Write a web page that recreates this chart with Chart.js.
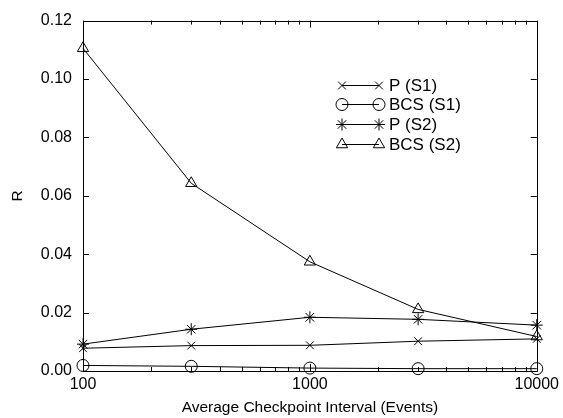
<!DOCTYPE html>
<html>
<head>
<meta charset="utf-8">
<script src="https://cdn.jsdelivr.net/npm/chart.js@4/dist/chart.umd.min.js"></script>
<style>
  html, body { margin: 0; padding: 0; background: #fff; }
  #wrap { width: 563px; height: 418px; }
</style>
</head>
<body>
<div id="wrap"><canvas id="chart"></canvas></div>
<script>
const black = "#000";
const font_family = "'Liberation Sans', Arial, Helvetica, sans-serif";

// data
const intervals = [100, 300, 1000, 3000, 10000];
const p_s1 = [0.0078, 0.0087, 0.0088, 0.0102, 0.0110];
const bcs_s1 = [0.0019, 0.0016, 0.0010, 0.0008, 0.0008];
const p_s2 = [0.0092, 0.0143, 0.0184, 0.0177, 0.0157];
const bcs_s2 = [0.1105, 0.0643, 0.0374, 0.0211, 0.0118];

const series_labels = ['P (S1)', 'BCS (S1)', 'P (S2)', 'BCS (S2)'];
const series_values = [p_s1, bcs_s1, p_s2, bcs_s2];
const point_styles = ['crossRot', 'circle', 'star', 'triangle'];
const point_radius = [5.5, 6, 6, 6.5];

const x_ticks = [100, 200, 300, 400, 500, 600, 700, 800, 900,
                 1000, 2000, 3000, 4000, 5000, 6000, 7000, 8000, 9000, 10000];
const x_labels = [100, 1000, 10000];
const y_ticks = [0, 0.02, 0.04, 0.06, 0.08, 0.10, 0.12];

function is_major(v) {
    return x_labels.includes(v);
}

// frame round the plot with inward tick marks on all four sides
const frame_plugin = {
    id: 'frame',
    afterDatasetsDraw(chart) {
        const ctx = chart.ctx;
        const a = chart.chartArea;
        const xs = chart.scales.x;
        const ys = chart.scales.y;
        ctx.save();
        ctx.strokeStyle = black;
        ctx.lineWidth = 1;
        ctx.beginPath();
        ctx.rect(Math.round(a.left) + 0.5, Math.round(a.top) + 0.5,
                 Math.round(a.right - a.left), Math.round(a.bottom - a.top));
        ctx.stroke();
        ctx.beginPath();
        y_ticks.forEach(v => {
            const y = Math.round(ys.getPixelForValue(v)) + 0.5;
            ctx.moveTo(a.left, y); ctx.lineTo(a.left + 6, y);
            ctx.moveTo(a.right, y); ctx.lineTo(a.right - 6, y);
        });
        x_ticks.forEach(v => {
            const x = Math.round(xs.getPixelForValue(v)) + 0.5;
            const len = is_major(v) ? 7 : 4;
            ctx.moveTo(x, a.bottom); ctx.lineTo(x, a.bottom - len);
            ctx.moveTo(x, a.top); ctx.lineTo(x, a.top + len);
        });
        ctx.stroke();
        ctx.restore();
    }
};

// legend with a marker at both ends of the line
const legend_plugin = {
    id: 'lineLegend',
    afterDraw(chart) {
        const ctx = chart.ctx;
        const x1 = 342, x2 = 379, tx = 389;
        const rows = [85, 104, 124, 144];
        ctx.save();
        ctx.strokeStyle = black;
        ctx.lineWidth = 1;
        chart.data.datasets.forEach((ds, i) => {
            const y = rows[i] + 0.5;
            ctx.beginPath();
            ctx.moveTo(x1, y); ctx.lineTo(x2, y);
            ctx.stroke();
            const opts = { pointStyle: ds.pointStyle, radius: ds.pointRadius, rotation: 0, borderWidth: 1 };
            ctx.fillStyle = 'rgba(0,0,0,0)';
            Chart.helpers.drawPoint(ctx, opts, x1, y);
            Chart.helpers.drawPoint(ctx, opts, x2, y);
            ctx.fillStyle = black;
            ctx.font = "17px " + font_family;
            ctx.textBaseline = 'middle';
            ctx.textAlign = 'left';
            ctx.fillText(ds.label, tx, y + 1);
        });
        ctx.restore();
    }
};

const ctx = document.getElementById('chart');
new Chart(ctx, {
    type: 'line',
    data: {
        datasets: series_labels.map((label, i) => ({
            label: label,
            data: intervals.map((x, j) => ({ x: x, y: series_values[i][j] })),
            borderColor: black,
            backgroundColor: 'rgba(0,0,0,0)',
            borderWidth: 1,
            pointStyle: point_styles[i],
            pointRadius: point_radius[i],
            pointBorderColor: black,
            pointBackgroundColor: 'rgba(0,0,0,0)',
            pointBorderWidth: 1,
            tension: 0,
            clip: false,
        }))
    },
    options: {
        responsive: true,
        maintainAspectRatio: false,
        animation: false,
        layout: {
            padding: { top: 17, right: 25, left: 0, bottom: 0 }
        },
        plugins: {
            legend: { display: false },
            tooltip: { enabled: false }
        },
        scales: {
            x: {
                type: 'logarithmic',
                min: 100,
                max: 10000,
                afterBuildTicks(scale) {
                    scale.ticks = x_ticks.map(v => ({ value: v, major: is_major(v) }));
                },
                afterFit(scale) {
                    scale.height = 47;
                },
                grid: { display: false, drawTicks: false },
                border: { display: false },
                ticks: {
                    autoSkip: false,
                    maxRotation: 0,
                    padding: 4,
                    color: black,
                    font: { family: font_family, size: 16 },
                    callback: (v) => is_major(v) ? String(v) : ''
                },
                title: {
                    display: true,
                    text: 'Average Checkpoint Interval (Events)',
                    color: black,
                    font: { family: font_family, size: 15.5 },
                    padding: { top: 0, bottom: 1 }
                }
            },
            y: {
                min: 0,
                max: 0.12,
                afterBuildTicks(scale) {
                    scale.ticks = y_ticks.map(v => ({ value: v }));
                },
                afterFit(scale) {
                    scale.width = 83;
                },
                grid: { display: false, drawTicks: false },
                border: { display: false },
                ticks: {
                    padding: 11,
                    color: black,
                    font: { family: font_family, size: 16 },
                    callback: (v) => Number(v).toFixed(2)
                },
                title: {
                    display: true,
                    text: 'R',
                    color: black,
                    font: { family: font_family, size: 15.5 },
                    padding: { top: 8, bottom: 0 }
                }
            }
        }
    },
    plugins: [frame_plugin, legend_plugin]
});
</script>
</body>
</html>
